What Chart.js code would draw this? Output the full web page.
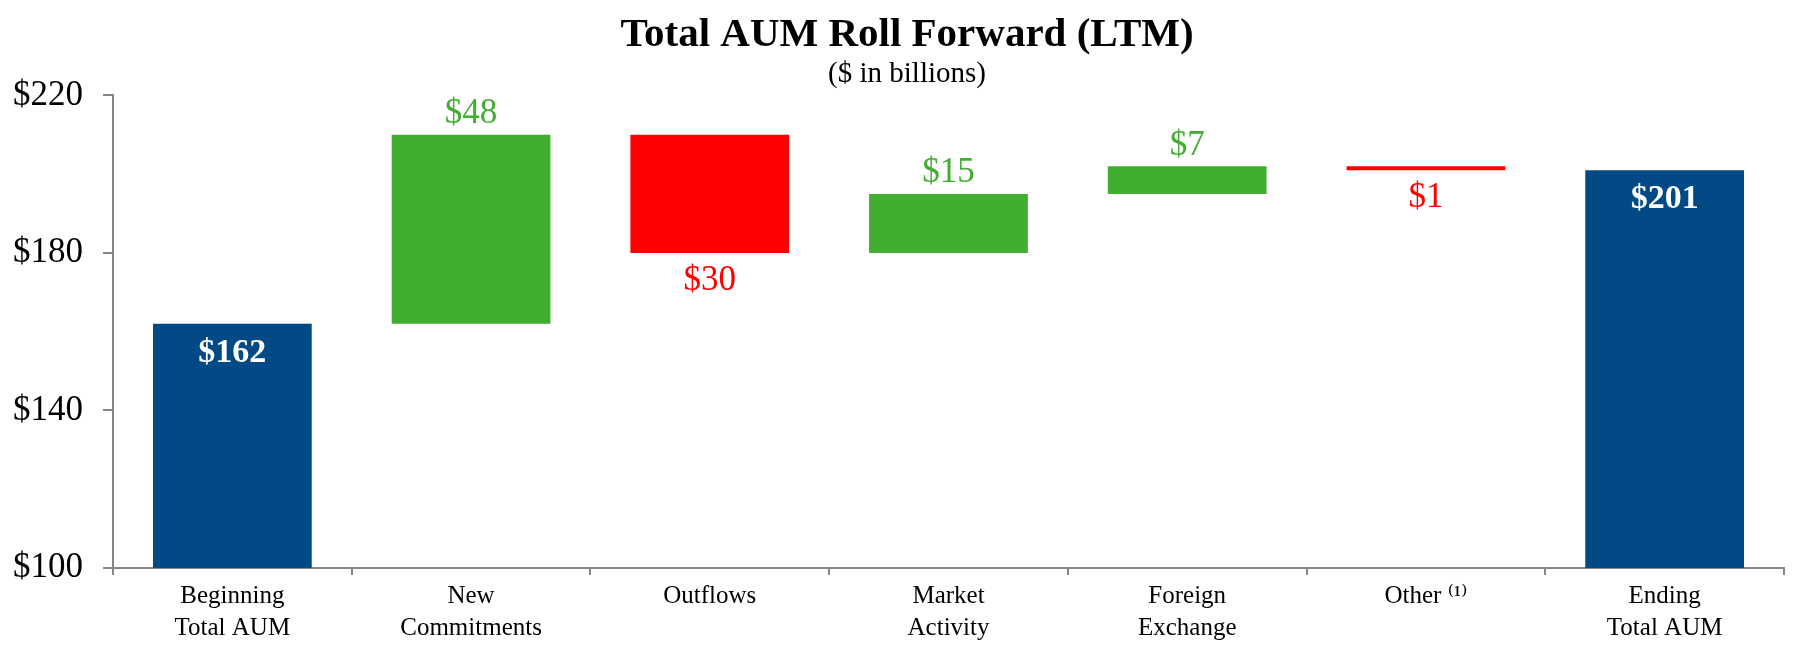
<!DOCTYPE html>
<html>
<head>
<meta charset="utf-8">
<script src="https://cdn.jsdelivr.net/npm/chart.js@4.4.1/dist/chart.umd.min.js"></script>
<style>
  body { margin: 0; background: #fff; }
  canvas { display: block; }
</style>
</head>
<body>
<canvas id="aum-chart" width="1801" height="651"></canvas>
<script>
// categories along the bottom
const categories = [
    ['Beginning', 'Total AUM'],
    ['New', 'Commitments'],
    'Outflows',
    ['Market', 'Activity'],
    ['Foreign', 'Exchange'],
    'Other \u207D\u00B9\u207E',
    ['Ending', 'Total AUM']
]

// $ in billions: totals at the ends, changes in between
const steps = [162, 48, -30, 15, 7, -1, 201]
const kinds = ['total', 'up', 'down', 'up', 'up', 'down', 'total']

const y_ticks = [100, 140, 180, 220]

const blue = '#024A86'
const green = '#41AD31'
const red = '#FF0000'
const axis_grey = '#868686'
const serif = "'Liberation Serif', 'Times New Roman', 'DejaVu Serif', serif"


// build the floating ranges for the waterfall
let ranges = []
let colors = []
let running = 0
for (let i = 0; i < steps.length; i++) {
    if (kinds[i] == 'total') {
        running = steps[i]
        ranges.push([0, steps[i]])
        colors.push(blue)
    } else {
        let start = running
        running = running + steps[i]
        ranges.push([Math.min(start, running), Math.max(start, running)])
        colors.push(steps[i] > 0 ? green : red)
    }
}


const value_labels = {
    id: 'valueLabels',
    afterDatasetsDraw(chart) {
        let ctx = chart.ctx
        let meta = chart.getDatasetMeta(0)
        ctx.save()
        ctx.textAlign = 'center'
        ctx.textBaseline = 'middle'
        meta.data.forEach(function (bar, i) {
            let text = '$' + Math.abs(steps[i])
            let top = Math.min(bar.y, bar.base)
            let bottom = Math.max(bar.y, bar.base)
            if (kinds[i] == 'total') {
                ctx.font = 'bold 34px ' + serif
                ctx.fillStyle = '#ffffff'
                ctx.fillText(text, bar.x, top + 29)
            } else if (kinds[i] == 'up') {
                ctx.font = '35px ' + serif
                ctx.fillStyle = green
                ctx.fillText(text, bar.x, top - 21)
            } else {
                ctx.font = '35px ' + serif
                ctx.fillStyle = red
                ctx.fillText(text, bar.x, bottom + 28)
            }
        })
        ctx.restore()
    }
}

// the title in the original sits a little right of the page centre
const title_shift = {
    id: 'titleShift',
    afterLayout(chart) {
        chart.boxes.forEach(function (box) {
            if (box.position == 'top' && box.options && box.options.text !== undefined) {
                box.left = 30
            }
        })
    }
}


let ctx = document.getElementById('aum-chart')

let my_chart = new Chart(ctx, {
    type: 'bar',
    data: {
        labels: categories,
        datasets: [{
            data: ranges,
            backgroundColor: colors,
            borderWidth: 0,
            categoryPercentage: 1,
            barPercentage: 0.665,
            clip: 0
        }]
    },
    options: {
        responsive: false,
        animation: false,
        layout: {
            padding: { left: 0, right: 17, top: 7, bottom: 2 }
        },
        plugins: {
            legend: { display: false },
            tooltip: { enabled: false },
            title: {
                display: true,
                text: 'Total AUM Roll Forward (LTM)',
                color: '#000',
                font: { family: serif, size: 41, weight: 'bold', lineHeight: 1.1 },
                padding: { top: 6, bottom: 0 }
            },
            subtitle: {
                display: true,
                text: '($ in billions)',
                color: '#000',
                font: { family: serif, size: 29, lineHeight: 1.15 },
                padding: { top: 0, bottom: 4 }
            }
        },
        scales: {
            x: {
                grid: {
                    display: true,
                    drawOnChartArea: false,
                    color: axis_grey,
                    lineWidth: 2,
                    tickLength: 7
                },
                border: { color: axis_grey, width: 2 },
                ticks: {
                    color: '#000',
                    padding: 5,
                    maxRotation: 0,
                    autoSkip: false,
                    font: { family: serif, size: 25, lineHeight: 1.28 }
                }
            },
            y: {
                min: 100,
                max: 220,
                afterBuildTicks: function (axis) {
                    axis.ticks = y_ticks.map(function (v) { return { value: v } })
                },
                afterFit: function (axis) {
                    axis.width = 113
                },
                grid: {
                    display: true,
                    drawOnChartArea: false,
                    color: axis_grey,
                    lineWidth: 2,
                    tickLength: 10
                },
                border: { color: axis_grey, width: 2 },
                ticks: {
                    color: '#000',
                    padding: 20,
                    font: { family: serif, size: 35 },
                    callback: function (v) { return '$' + v }
                }
            }
        }
    },
    plugins: [value_labels, title_shift]
});
</script>
</body>
</html>
